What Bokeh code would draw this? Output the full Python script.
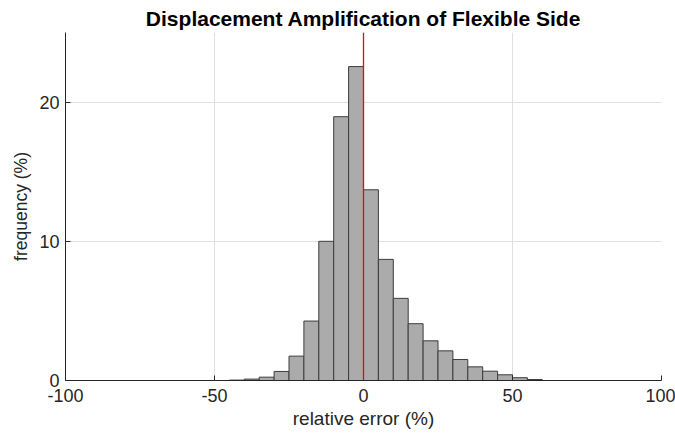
from bokeh.plotting import figure
from bokeh.models import Span, Range1d, FixedTicker
from bokeh.embed import file_html
from bokeh.resources import INLINE

# bin edges (relative error, %) and frequencies (%)
bin_left = [-45, -40, -35, -30, -25, -20, -15, -10, -5, 0, 5, 10, 15, 20, 25, 30, 35, 40, 45, 50, 55]
bin_right = [-40, -35, -30, -25, -20, -15, -10, -5, 0, 5, 10, 15, 20, 25, 30, 35, 40, 45, 50, 55, 60]
frequency = [0.03, 0.10, 0.24, 0.65, 1.75, 4.27, 10.0, 18.95, 22.55, 13.7, 8.7, 5.9,
             4.08, 2.85, 2.13, 1.51, 0.98, 0.67, 0.41, 0.20, 0.07]
x_ticks = [-100, -50, 0, 50, 100]
x_tick_labels = ["-100", "-50", "0", "50", "100"]
y_ticks = [0, 10, 20]
ref_line = 0

FONT = "Liberation Sans"
TXT = "#262626"

p = figure(width=675, height=433, output_backend="svg", toolbar_location=None,
           x_range=Range1d(-100, 100), y_range=Range1d(0, 25),
           min_border_left=65, min_border_right=14, min_border_top=32, min_border_bottom=53)

p.title.text = "Displacement Amplification of Flexible Side"
p.title.text_font = FONT
p.title.text_font_size = "21px"
p.title.text_font_style = "bold"
p.title.text_color = "black"
p.title.align = "center"
p.title.offset = 0
p.title.standoff = 6

p.outline_line_color = None
p.background_fill_color = "white"
p.border_fill_color = "white"

for ax in (p.xaxis[0], p.yaxis[0]):
    ax.axis_line_color = TXT
    ax.major_tick_line_color = TXT
    ax.major_tick_in = 5
    ax.major_tick_out = 0
    ax.minor_tick_line_color = None
    ax.major_label_text_font = FONT
    ax.major_label_text_font_size = "18px"
    ax.major_label_text_color = TXT
    ax.axis_label_text_font = FONT
    ax.axis_label_text_font_style = "normal"
    ax.axis_label_text_color = TXT

p.xaxis.ticker = FixedTicker(ticks=x_ticks)
p.xaxis.major_label_overrides = {t: s for t, s in zip(x_ticks, x_tick_labels)}
p.yaxis.ticker = FixedTicker(ticks=y_ticks)
p.xaxis.axis_label = "relative error (%)"
p.yaxis.axis_label = "frequency (%)"
p.xaxis.axis_label_text_font_size = "19px"
p.yaxis.axis_label_text_font_size = "17.5px"
p.xaxis.major_label_standoff = 8
p.yaxis.major_label_standoff = 6
p.xaxis.axis_label_standoff = 3
p.yaxis.axis_label_standoff = 5

p.xgrid.ticker = FixedTicker(ticks=x_ticks)
p.ygrid.ticker = FixedTicker(ticks=y_ticks)
p.grid.grid_line_color = "#e0e0e0"
p.grid.grid_line_width = 1

p.quad(left=bin_left, right=bin_right, bottom=0, top=frequency,
       fill_color="#ababab", line_color="#3c3c3c", line_width=1)

p.add_layout(Span(location=ref_line, dimension="height", line_color="#ff0000", line_width=1.3))

open("out.html", "w").write(file_html(p, INLINE))
